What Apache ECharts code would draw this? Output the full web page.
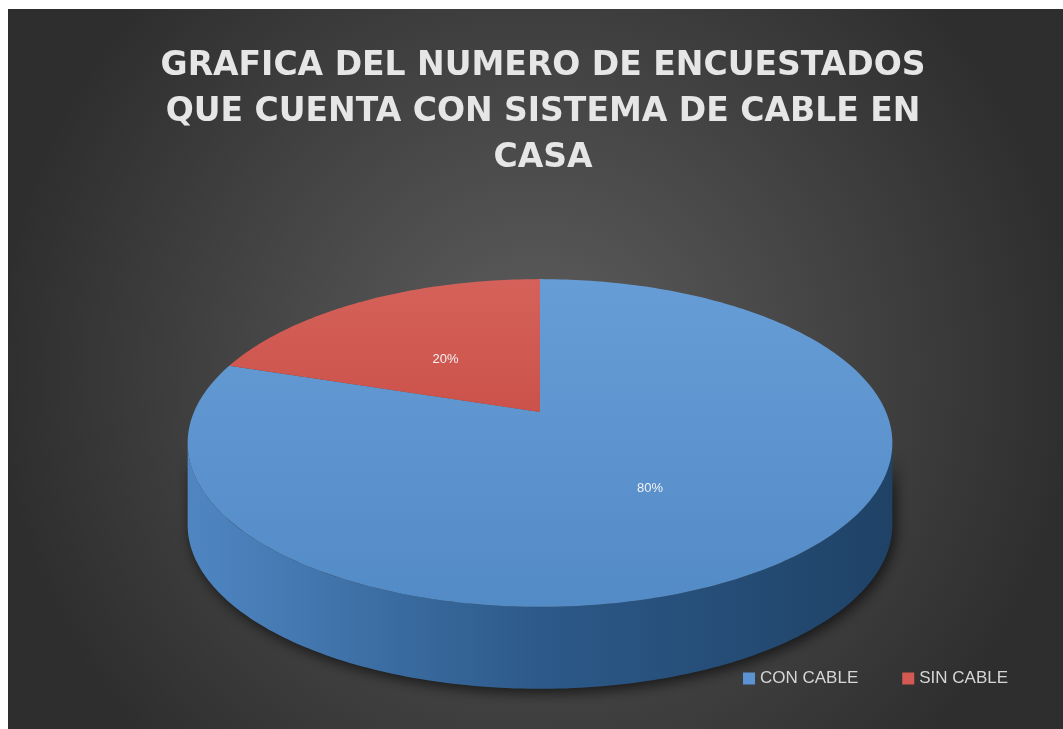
<!DOCTYPE html>
<html>
<head>
<meta charset="utf-8">
<script src="https://cdn.jsdelivr.net/npm/echarts@6/dist/echarts.min.js"></script>
<style>
  html, body { margin: 0; padding: 0; background: #ffffff; }
  #main { position: absolute; left: 8px; top: 9px; width: 1055px; height: 720px; }
</style>
</head>
<body>
<div id="main"></div>
<script>
// data
const categories = ['CON CABLE', 'SIN CABLE'];
const values = [80, 20];
const topColors = [['#679dd6', '#538bc7'], ['#d5625a', '#cb524b']];
const wallColors = [['#4f86c2', '#2c5989', '#1f4266'], ['#b8463f', '#9a3631', '#7e2b27']];
const legendColors = ['#5b93d3', '#d35a52'];
const titleText = 'GRAFICA DEL NUMERO DE ENCUESTADOS\nQUE CUENTA CON SISTEMA DE CABLE EN\nCASA';

// pie projection (chart coords)
const CX = 532, CY = 403;   // apex of the pie
const A = 346, B = 158;     // horizontal / vertical radius
const K = 0.189;            // perspective
const H = 82;               // thickness

const total = values.reduce((s, v) => s + v, 0);

function proj(X, Z, drop) {
  const d = 1 + K * Z;
  return [CX + A * X / d, CY - B * Z / d + (drop || 0)];
}
function arcPts(t0, t1, r, drop) {
  const n = Math.max(2, Math.ceil(Math.abs(t1 - t0) / (Math.PI / 180)));
  const pts = [];
  for (let i = 0; i <= n; i++) {
    const t = t0 + (t1 - t0) * i / n;
    pts.push(proj(r * Math.cos(t), r * Math.sin(t), drop));
  }
  return pts;
}

function makeSlice(idx) {
  let before = 0;
  for (let j = 0; j < idx; j++) before += values[j];
  const start = Math.PI / 2 - 2 * Math.PI * before / total;
  const end = start - 2 * Math.PI * values[idx] / total;
  const children = [];
  const as = Math.asin(K);
  [-2 * Math.PI, 0, 2 * Math.PI].forEach(shift => {
    const lo = Math.max(end, Math.PI + as + shift);
    const hi = Math.min(start, 2 * Math.PI - as + shift);
    if (lo < hi) {
      const upper = arcPts(lo, hi, 1, 0);
      const lower = arcPts(lo, hi, 1, H).reverse();
      const wc = wallColors[idx];
      children.push({
        type: 'polygon',
        z2: 0,
        shape: { points: upper.concat(lower) },
        style: {
          fill: new echarts.graphic.LinearGradient(0, 0, 1, 0, [
            { offset: 0, color: wc[0] },
            { offset: 0.5, color: wc[1] },
            { offset: 1, color: wc[2] }
          ]),
          shadowBlur: 14,
          shadowColor: 'rgba(0,0,0,0.65)',
          shadowOffsetX: 3,
          shadowOffsetY: 4
        }
      });
    }
  });
  const tc = topColors[idx];
  children.push({
    type: 'polygon',
    z2: 1,
    shape: { points: [proj(0, 0)].concat(arcPts(start, end, 1, 0)) },
    style: {
      fill: new echarts.graphic.LinearGradient(0, 0, 0, 1, [
        { offset: 0, color: tc[0] },
        { offset: 1, color: tc[1] }
      ])
    }
  });
  const mid = (start + end) / 2;
  const lp = proj(0.5 * Math.cos(mid), 0.5 * Math.sin(mid));
  children.push({
    type: 'text',
    z2: 2,
    x: lp[0], y: lp[1] + 7,
    style: {
      text: Math.round(values[idx] / total * 100) + '%',
      fill: '#f2f2f2',
      font: '13px "Liberation Sans Narrow", "Liberation Sans", sans-serif',
      align: 'center',
      verticalAlign: 'middle'
    }
  });
  return { type: 'group', children: children };
}

const chart = echarts.init(document.getElementById('main'));
chart.setOption({
  animation: false,
  backgroundColor: new echarts.graphic.RadialGradient(0.5, 0.5, 0.75, [
    { offset: 0, color: '#5e5e5e' },
    { offset: 1, color: '#2e2e2e' }
  ]),
  title: {
    text: titleText,
    left: 530,
    textAlign: 'center',
    top: 29,
    textStyle: {
      fontFamily: 'DejaVu Sans',
      fontWeight: 'bold',
      fontSize: 33,
      lineHeight: 46,
      color: '#e6e6e6'
    }
  },
  legend: {
    left: 730,
    top: 656,
    icon: 'rect',
    itemWidth: 12,
    itemHeight: 12,
    itemGap: 44,
    data: categories,
    textStyle: { color: '#d6d6d6', fontSize: 17, fontFamily: 'Liberation Sans' }
  },
  series: categories.map((name, i) => ({
    type: 'custom',
    name: name,
    coordinateSystem: 'none',
    itemStyle: { color: legendColors[i] },
    data: [[values[i]]],
    renderItem: () => makeSlice(i)
  }))
});
</script>
</body>
</html>
